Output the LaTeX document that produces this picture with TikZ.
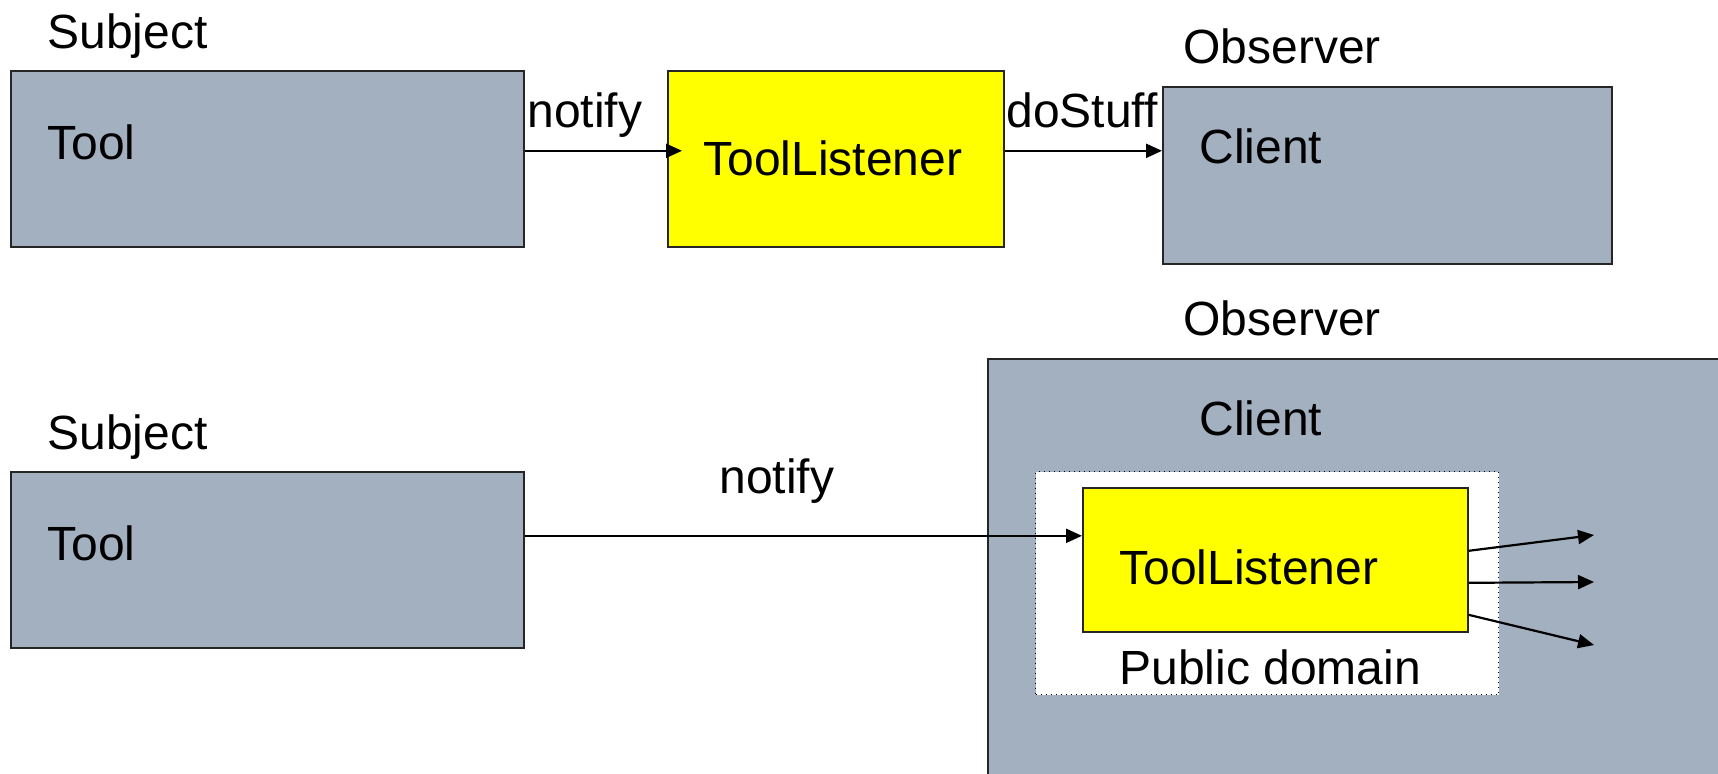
\documentclass[tikz,border=0pt]{standalone}
\usepackage{fontspec}
\setmainfont{Liberation Sans}
\usetikzlibrary{arrows.meta}
\definecolor{slate}{RGB}{162,176,192}
\definecolor{ylw}{RGB}{255,255,0}
\tikzset{
  box/.style={draw=black!85, line width=0.8pt, inner sep=0pt, anchor=north west},
  greybox/.style={box, fill=slate},
  yellowbox/.style={box, fill=ylw},
  domainbox/.style={draw=black, dotted, line width=0.5pt, fill=white, inner sep=0pt, anchor=north west},
  lbl/.style={inner sep=0pt, anchor=base west, font=\fontsize{24pt}{28pt}\selectfont},
  arr/.style={line width=1.1pt, -{Triangle[length=8pt,width=7pt]}}
}
\begin{document}
\begin{tikzpicture}[x=0.5pt,y=-0.5pt]
\useasboundingbox (0,0) rectangle (1718,773);
\clip (0,0) rectangle (1718,773);
% top row
\node[greybox, minimum width=256.5pt, minimum height=88pt] (tool1) at (10,70) {};
\node[yellowbox, minimum width=168pt, minimum height=88pt] (tl1) at (667,70) {};
\node[greybox, minimum width=224.5pt, minimum height=88.5pt] (client1) at (1162,86) {};
\node[lbl] (subj1) at (47,48) {Subject};
\node[lbl] (tool1t) at (47,159) {Tool};
\node[lbl] (notify1) at (527,127) {notify};
\node[lbl] (tl1t) at (703,175) {ToolListener};
\node[lbl] (dostuff) at (1006,127) {doStuff};
\node[lbl] (obs1) at (1183,63) {Observer};
\node[lbl] (client1t) at (1199,163) {Client};
\draw[arr, shorten >=-7.5pt] ([yshift=4pt]tool1.east) -- ([yshift=4pt]tl1.west);
\draw[arr] ([yshift=4pt]tl1.east) -- ([yshift=4pt]tl1.east -| client1.west);
% bottom row
\node[greybox, minimum width=256.5pt, minimum height=88pt] (tool2) at (10,471) {};
\node[greybox, minimum width=371.5pt, minimum height=216pt] (client2) at (987,358) {};
\node[domainbox, minimum width=231.5pt, minimum height=111.5pt] (domain) at (1035,471) {};
\node[yellowbox, minimum width=192.5pt, minimum height=72pt] (tl2) at (1082,487) {};
\node[lbl] (subj2) at (47,449) {Subject};
\node[lbl] (tool2t) at (47,560) {Tool};
\node[lbl] (notify2) at (719,493) {notify};
\node[lbl] (obs2) at (1183,335) {Observer};
\node[lbl] (client2t) at (1199,435) {Client};
\node[lbl] (tl2t) at (1119,584) {ToolListener};
\node[lbl] (pubdom) at (1119,684) {Public domain};
\draw[arr] ([yshift=12pt]tool2.east) -- ([yshift=12pt]tool2.east -| tl2.west);
\coordinate (e1) at (1594,535);
\coordinate (e2) at (1594,582);
\coordinate (e3) at (1594,645);
\draw[arr] ([yshift=4.5pt]tl2.east) -- (e1);
\draw[arr] ([yshift=-11.5pt]tl2.east) -- (e2);
\draw[arr] ([yshift=-27.5pt]tl2.east) -- (e3);
\end{tikzpicture}
\end{document}
